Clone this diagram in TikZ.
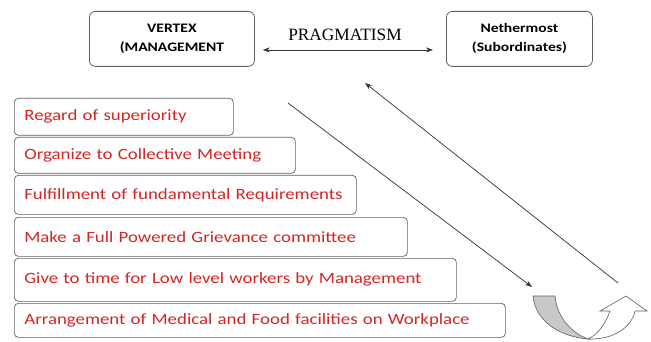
\documentclass[tikz,border=0pt]{standalone}
\usepackage{fontspec}
\setmainfont{Carlito}[FakeStretch=1.2]
\newfontfamily\serifface{Liberation Serif}
\usetikzlibrary{arrows.meta}
\definecolor{itemred}{RGB}{214,36,36}
\definecolor{edgegray}{RGB}{95,95,95}
\definecolor{linegray}{RGB}{50,50,50}
\definecolor{ribbongray}{RGB}{200,200,200}
\begin{document}
\begin{tikzpicture}[x=1pt,y=-1pt,
  topbox/.style={draw=edgegray, line width=0.8pt, rounded corners=6pt, anchor=north west,
    align=center, font=\fontsize{13}{19}\selectfont\bfseries, inner sep=0pt},
  stairbox/.style={draw=edgegray, line width=0.7pt, rounded corners=4pt, anchor=north west,
    inner xsep=10pt, inner ysep=0pt, align=left, text=itemred,
    font=\fontsize{15.7}{18}\selectfont},
  flow/.style={draw=linegray, line width=0.7pt},
  tip/.style={-{Stealth[length=7pt,width=5pt]}}]
\useasboundingbox (0,0) rectangle (651,342);
\clip (0,0) rectangle (651,342);

% top level: management and subordinates
\node[topbox, minimum width=165pt, minimum height=55pt] (vertex) at (89,11) {VERTEX\\(MANAGEMENT};
\node[topbox, minimum width=146pt, minimum height=55pt] (nether) at (446,11) {Nethermost\\(Subordinates)};
\node[font=\serifface\fontsize{17.3}{18}\selectfont] (prag) at (345,35) {PRAGMATISM};
\draw[flow, {Stealth[length=7pt,width=5pt]}-{Stealth[length=7pt,width=5pt]}]
  ([xshift=8pt,yshift=-11pt]vertex.east) -- ([xshift=-13pt,yshift=-11pt]nether.west);

% staircase of measures
\node[stairbox, minimum width=219pt, minimum height=37pt, text width=199pt] (s1) at (14,98) {Regard of superiority};
\node[stairbox, minimum width=281pt, minimum height=36pt, text width=261pt] (s2) at (14,137) {Organize to Collective Meeting};
\node[stairbox, minimum width=342pt, minimum height=39pt, text width=322pt] (s3) at (14,175) {Fulfillment of fundamental Requirements};
\node[stairbox, minimum width=393pt, minimum height=39pt, text width=373pt] (s4) at (14,217) {Make a Full Powered Grievance committee};
\node[stairbox, minimum width=442pt, minimum height=43pt, text width=422pt] (s5) at (14,258) {Give to time for Low level workers by Management};
\node[stairbox, minimum width=491pt, minimum height=34pt, text width=471pt] (s6) at (14,303) {Arrangement of Medical and Food facilities on Workplace};

% diagonal flows
\coordinate (downA) at (288,103);
\coordinate (downB) at (532,287);
\coordinate (upA) at (618,283);
\coordinate (upB) at (365,83);
\draw[flow, tip] (downA) -- (downB);
\draw[flow, tip] (upA) -- (upB);

% U-turn ribbon arrow
\draw[edgegray, line width=0.6pt, fill=white]
  (588,339) .. controls (615,340) and (632,326) .. (635,311)
  -- (647,311) -- (626,296) -- (600,311) -- (610,311)
  .. controls (605,325) and (598,334) .. (588,339) -- cycle;
\draw[edgegray, line width=0.6pt, fill=ribbongray]
  (533,296) -- (555,296)
  .. controls (557,318) and (572,333) .. (588,339)
  .. controls (555,336) and (535,318) .. (533,296) -- cycle;
\end{tikzpicture}
\end{document}
